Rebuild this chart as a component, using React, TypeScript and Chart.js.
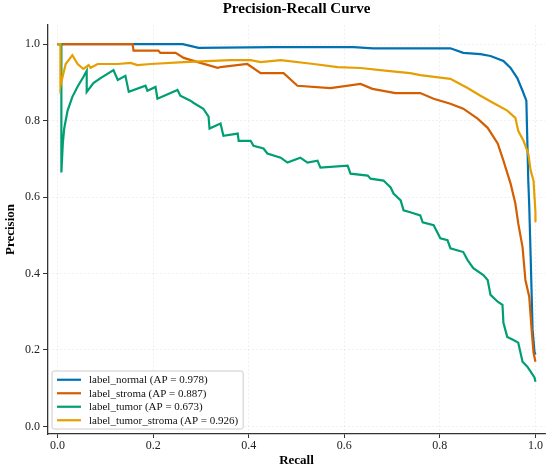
import React, { useEffect, useRef } from "react";
import { Chart, registerables } from "chart.js";

Chart.register(...registerables);

const FONT = '"Liberation Serif", "Times New Roman", serif';

const seriesLabels = [
  "label_normal (AP = 0.978)",
  "label_stroma (AP = 0.887)",
  "label_tumor (AP = 0.673)",
  "label_tumor_stroma (AP = 0.926)",
];
const seriesColors = ["#0072B2", "#D55E00", "#009E73", "#E69F00"];

const xTicks = [0, 0.2, 0.4, 0.6, 0.8, 1.0];
const yTicks = [0, 0.2, 0.4, 0.6, 0.8, 1.0];

// label_normal
const recallNormal = [0, 0.262, 0.295, 0.45, 0.62, 0.66, 0.822, 0.849, 0.885, 0.906, 0.933, 0.948, 0.962, 0.973, 0.981, 0.985, 0.987, 0.99, 0.994, 0.998, 1.0];
const precisionNormal = [1.0, 1.0, 0.99, 0.992, 0.992, 0.989, 0.989, 0.977, 0.974, 0.969, 0.956, 0.9375, 0.911, 0.878, 0.852, 0.643, 0.578, 0.443, 0.253, 0.195, 0.1875];

// label_stroma
const recallStroma = [0, 0.157, 0.159, 0.211, 0.215, 0.247, 0.264, 0.299, 0.335, 0.341, 0.397, 0.425, 0.473, 0.502, 0.571, 0.634, 0.659, 0.707, 0.759, 0.787, 0.822, 0.849, 0.879, 0.9, 0.921, 0.933, 0.948, 0.958, 0.964, 0.973, 0.979, 0.987, 0.992, 0.996, 1.0];
const precisionStroma = [1.0, 1.0, 0.983, 0.983, 0.977, 0.977, 0.964, 0.951, 0.938, 0.94, 0.948, 0.924, 0.924, 0.891, 0.885, 0.896, 0.883, 0.872, 0.872, 0.857, 0.844, 0.831, 0.805, 0.781, 0.74, 0.695, 0.635, 0.583, 0.531, 0.469, 0.383, 0.339, 0.253, 0.193, 0.169];

// label_tumor
const recallTumor = [0, 0.008, 0.008, 0.011, 0.014, 0.021, 0.031, 0.042, 0.054, 0.061, 0.061, 0.075, 0.09, 0.117, 0.126, 0.142, 0.149, 0.184, 0.188, 0.205, 0.209, 0.251, 0.257, 0.278, 0.285, 0.305, 0.316, 0.318, 0.341, 0.347, 0.377, 0.379, 0.404, 0.41, 0.431, 0.439, 0.467, 0.481, 0.508, 0.523, 0.544, 0.55, 0.607, 0.613, 0.649, 0.655, 0.682, 0.697, 0.703, 0.718, 0.724, 0.738, 0.759, 0.764, 0.787, 0.801, 0.816, 0.822, 0.849, 0.858, 0.87, 0.891, 0.9, 0.906, 0.921, 0.931, 0.933, 0.941, 0.952, 0.964, 0.973, 0.983, 0.99, 0.998, 1.0];
const precisionTumor = [1.0, 1.0, 0.664, 0.74, 0.78, 0.826, 0.862, 0.889, 0.914, 0.93, 0.875, 0.898, 0.911, 0.932, 0.906, 0.917, 0.875, 0.891, 0.878, 0.888, 0.857, 0.88, 0.865, 0.852, 0.846, 0.831, 0.81, 0.779, 0.792, 0.76, 0.766, 0.747, 0.747, 0.734, 0.727, 0.714, 0.703, 0.69, 0.703, 0.69, 0.695, 0.677, 0.682, 0.661, 0.656, 0.648, 0.643, 0.625, 0.609, 0.591, 0.565, 0.56, 0.552, 0.534, 0.526, 0.492, 0.487, 0.466, 0.456, 0.435, 0.414, 0.396, 0.383, 0.344, 0.326, 0.318, 0.271, 0.234, 0.227, 0.219, 0.169, 0.156, 0.143, 0.128, 0.117];

// label_tumor_stroma
const recallTumorStroma = [0, 0.006, 0.006, 0.017, 0.031, 0.042, 0.054, 0.065, 0.069, 0.084, 0.126, 0.153, 0.167, 0.195, 0.264, 0.362, 0.404, 0.425, 0.467, 0.536, 0.586, 0.634, 0.69, 0.738, 0.759, 0.822, 0.858, 0.885, 0.912, 0.941, 0.958, 0.964, 0.975, 0.985, 0.99, 0.996, 1.0, 1.0];
const precisionTumorStroma = [1.0, 1.0, 0.891, 0.948, 0.971, 0.948, 0.935, 0.945, 0.938, 0.948, 0.948, 0.951, 0.945, 0.948, 0.953, 0.958, 0.958, 0.953, 0.958, 0.948, 0.94, 0.9375, 0.93, 0.924, 0.919, 0.909, 0.885, 0.865, 0.846, 0.826, 0.807, 0.773, 0.747, 0.714, 0.669, 0.643, 0.56, 0.534];

const recalls = [recallNormal, recallStroma, recallTumor, recallTumorStroma];
const precisions = [precisionNormal, precisionStroma, precisionTumor, precisionTumorStroma];

const insideLegend = {
  id: "insideLegend",
  afterDatasetsDraw(chart: any) {
    const { ctx, chartArea } = chart;
    const rowH = 13.5;
    const boxLeft = chartArea.left + 4;
    const boxH = seriesLabels.length * rowH + 4;
    const boxTop = chartArea.bottom - 5 - boxH;
    ctx.save();
    ctx.font = `11px ${FONT}`;
    const textW = Math.max(...seriesLabels.map((l) => ctx.measureText(l).width));
    const boxW = 5 + 24 + 8 + textW + 5;
    ctx.beginPath();
    ctx.roundRect(boxLeft, boxTop, boxW, boxH, 2);
    ctx.fillStyle = "rgba(255,255,255,0.85)";
    ctx.fill();
    ctx.strokeStyle = "#cccccc";
    ctx.lineWidth = 1;
    ctx.stroke();
    seriesLabels.forEach((label, i) => {
      const cy = boxTop + 2 + rowH * (i + 0.5);
      ctx.beginPath();
      ctx.moveTo(boxLeft + 5, cy);
      ctx.lineTo(boxLeft + 29, cy);
      ctx.strokeStyle = seriesColors[i];
      ctx.lineWidth = 2.2;
      ctx.stroke();
      ctx.fillStyle = "#111";
      ctx.textBaseline = "middle";
      ctx.textAlign = "left";
      ctx.fillText(label, boxLeft + 37, cy + 0.5);
    });
    ctx.restore();
  },
};

export default function App() {
  const canvasRef = useRef<HTMLCanvasElement | null>(null);

  useEffect(() => {
    document.body.style.margin = "0";
    if (!canvasRef.current) return;
    const chart = new Chart(canvasRef.current, {
      type: "scatter",
      data: {
        datasets: seriesLabels.map((label, i) => ({
          label,
          data: recalls[i].map((r, j) => ({ x: r, y: precisions[i][j] })),
          borderColor: seriesColors[i],
          backgroundColor: seriesColors[i],
          borderWidth: 2.2,
          showLine: true,
          pointRadius: 0,
          tension: 0,
          order: seriesLabels.length - i,
        })),
      },
      options: {
        animation: false,
        responsive: true,
        maintainAspectRatio: false,
        layout: { padding: { left: 0, right: 5, top: 0, bottom: 0 } },
        plugins: {
          legend: { display: false },
          tooltip: { enabled: false },
          title: {
            display: true,
            text: "Precision-Recall Curve",
            fullSize: false,
            color: "#000",
            font: { family: FONT, size: 15, weight: "bold" },
            padding: { top: 0, bottom: 7 },
          },
        },
        scales: {
          x: {
            type: "linear",
            min: -0.02,
            max: 1.02,
            afterBuildTicks: (scale: any) => {
              scale.ticks = xTicks.map((v) => ({ value: v }));
            },
            afterFit: (scale: any) => {
              scale.height = 34;
            },
            ticks: {
              callback: (v: any) => Number(v).toFixed(1),
              color: "#222",
              font: { family: FONT, size: 12 },
              padding: 1,
              maxRotation: 0,
            },
            grid: {
              color: "rgba(0,0,0,0.08)",
              lineWidth: 0.8,
              tickLength: 4,
              tickColor: "#333",
              tickWidth: 1,
            },
            border: { display: true, color: "#333", width: 1.3, dash: [2, 2] },
            title: {
              display: true,
              text: "Recall",
              color: "#000",
              font: { family: FONT, size: 13, weight: "bold" },
              padding: { top: 0, bottom: 0 },
            },
          },
          y: {
            type: "linear",
            min: -0.02,
            max: 1.05,
            afterBuildTicks: (scale: any) => {
              scale.ticks = yTicks.map((v) => ({ value: v }));
            },
            afterFit: (scale: any) => {
              scale.width = 48;
            },
            ticks: {
              callback: (v: any) => Number(v).toFixed(1),
              color: "#222",
              font: { family: FONT, size: 12 },
              padding: 3,
            },
            grid: {
              color: "rgba(0,0,0,0.08)",
              lineWidth: 0.8,
              tickLength: 5,
              tickColor: "#333",
              tickWidth: 1,
            },
            border: { display: true, color: "#333", width: 1.3, dash: [2, 2] },
            title: {
              display: true,
              text: "Precision",
              color: "#000",
              font: { family: FONT, size: 13, weight: "bold" },
              padding: { top: 3, bottom: 0 },
            },
          },
        },
      },
      plugins: [insideLegend],
    });
    return () => chart.destroy();
  }, []);

  return (
    <div style={{ position: "relative", width: 550, height: 468 }}>
      <canvas ref={canvasRef} />
    </div>
  );
}
